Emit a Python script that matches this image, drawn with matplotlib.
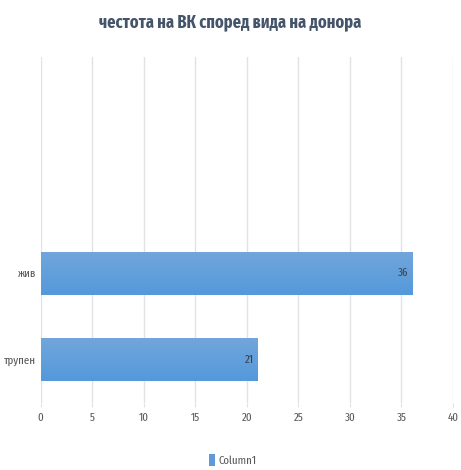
import numpy as np
import matplotlib.pyplot as plt
from matplotlib import font_manager as fm
from matplotlib.colors import LinearSegmentedColormap

names = {f.name for f in fm.fontManager.ttflist}
prefs = ['Fira Sans Extra Condensed', 'Fira Sans Condensed', 'Roboto Condensed', 'IBM Plex Sans Condensed']
fam = [n for n in prefs if n in names][:1] + ['DejaVu Sans']
plt.rcParams['font.family'] = fam

categories = ['трупен', 'жив', '', '']
values = [21, 36, None, None]
xticks = [0, 5, 10, 15, 20, 25, 30, 35, 40]
title = 'честота на ВК според вида на донора'

fig = plt.figure(figsize=(4.61, 4.70), dpi=100)
ax = fig.add_axes([0.0879, 0.1426, 0.8948, 0.736])

pos = [i for i, v in enumerate(values) if v is not None]
vals = [v for v in values if v is not None]
bars = ax.barh(pos, vals, height=0.5, color='#5f9bd8', label='Column1', zorder=3)
cmap = LinearSegmentedColormap.from_list('g', ['#5499db', '#72a6dc'])
grad = np.linspace(0, 1, 64).reshape(-1, 1)
for b, v in zip(bars, vals):
    im = ax.imshow(grad, cmap=cmap, aspect='auto', origin='lower', zorder=3.5,
                   extent=(0, v, b.get_y(), b.get_y() + b.get_height()))
    im.set_clip_path(b)
    ax.text(b.get_width() - 0.3, b.get_y() + b.get_height() / 2, str(v),
            ha='right', va='center', fontsize=8.5, color='#404040', zorder=4)

ax.set_xlim(0, 40)
ax.set_ylim(-0.5, len(categories) - 0.5)
ax.set_xticks(xticks)
ax.set_yticks(range(len(categories)))
ax.set_yticklabels(categories)
ax.grid(axis='x', color='#e2e2e6', lw=1, zorder=0)
for s in ax.spines.values():
    s.set_visible(False)
ax.tick_params(axis='x', length=3, color='#e2e2e6', labelsize=8.5, labelcolor='#595959', pad=4)
ax.tick_params(axis='y', length=0, labelsize=8.5, labelcolor='#595959', pad=3)

fig.text(0.5, 0.953, title, ha='center', va='center', fontsize=12.8,
         fontweight='bold', color='#44546a')
fig.legend(loc='center', bbox_to_anchor=(0.505, 0.021), frameon=False, fontsize=8.5,
           handlelength=0.5, handleheight=1.1, handletextpad=0.3, labelcolor='#595959')

fig.savefig('out.png', dpi=100)
